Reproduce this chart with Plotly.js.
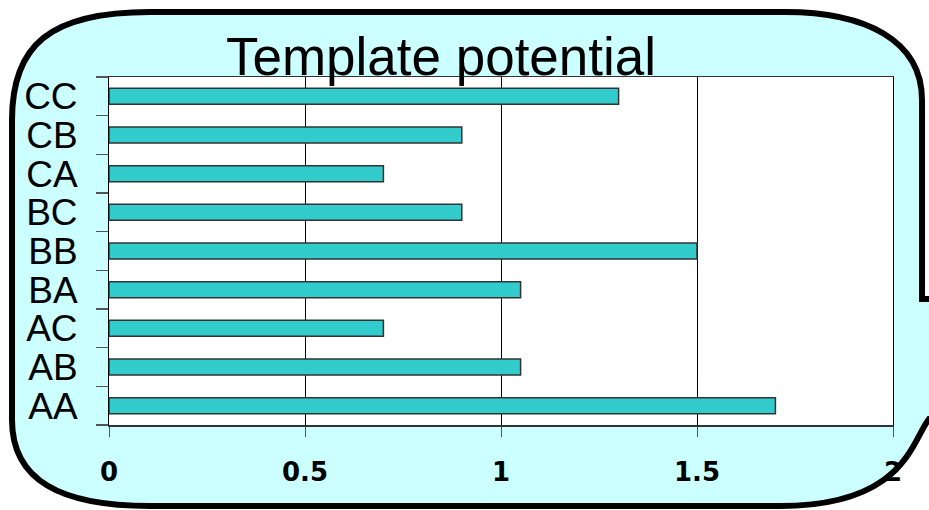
<!DOCTYPE html>
<html>
<head>
<meta charset="utf-8">
<script src="https://cdn.plot.ly/plotly-3.0.1.min.js"></script>
<style>html,body{margin:0;padding:0;background:#fff;}#chart{width:929px;height:510px;}</style>
</head>
<body>
<div id="chart"></div>
<script>
// Data
const categories = ['AA','AB','AC','BA','BB','BC','CA','CB','CC'];
const values = [1.7, 1.05, 0.7, 1.05, 1.5, 0.9, 0.7, 0.9, 1.3];
const xTickValues = [0, 0.5, 1, 1.5, 2];
const xTickLabels = ['0', '0.5', '1', '1.5', '2'];
const titleText = 'Template potential';

// Geometry of the plot area (pixels)
const W = 929, H = 510;
const L = 109, R = 893, T = 77, B = 425;
function px(x){ return ((x - L) / (R - L)).toFixed(4); }
function py(y){ return ((B - y) / (B - T)).toFixed(4); }
function P(x, y){ return px(x) + ',' + py(y); }

// Callout background outline (pixel coordinates -> paper)
const calloutPath =
  'M' + P(150, 12) +
  ' L' + P(785, 12) +
  ' C' + P(865, 12) + ' ' + P(922, 40) + ' ' + P(922, 100) +
  ' L' + P(922, 299) +
  ' L' + P(940, 299) +
  ' L' + P(940, 419) +
  ' L' + P(929, 419) +
  ' C' + P(912, 440) + ' ' + P(905, 506) + ' ' + P(780, 506) +
  ' L' + P(150, 506) +
  ' C' + P(60, 506) + ' ' + P(12, 480) + ' ' + P(12, 420) +
  ' L' + P(12, 120) +
  ' C' + P(12, 45) + ' ' + P(50, 12) + ' ' + P(150, 12) + ' Z';

const trace = {
  type: 'bar',
  orientation: 'h',
  x: values,
  y: categories,
  marker: { color: '#33CCCC', line: { color: '#333333', width: 1.5 } },
  hoverinfo: 'skip'
};

const layout = {
  width: W, height: H,
  margin: { l: L, r: W - R, t: T, b: H - B, pad: 0 },
  paper_bgcolor: '#ffffff',
  plot_bgcolor: '#ffffff',
  showlegend: false,
  bargap: 0.586,
  title: {
    text: titleText,
    font: { family: 'Liberation Sans, Arial, sans-serif', size: 53, color: '#000' },
    x: (441 - L) / (R - L), xref: 'paper', xanchor: 'center',
    y: 1 - 56 / H, yref: 'container', yanchor: 'middle'
  },
  xaxis: {
    range: [0, 2],
    tickmode: 'array',
    tickvals: xTickValues,
    ticktext: xTickLabels,
    showgrid: true, gridcolor: '#000000', gridwidth: 1,
    zeroline: false,
    showline: true, linecolor: '#333333', linewidth: 1.5, mirror: true,
    ticks: 'outside', ticklen: 10, tickcolor: '#555555', tickwidth: 1,
    ticklabelstandoff: 13,
    tickfont: { family: 'DejaVu Sans, Verdana, sans-serif', size: 26, color: '#000', weight: 'bold' },
    fixedrange: true
  },
  yaxis: {
    type: 'category',
    categoryorder: 'array', categoryarray: categories,
    tickmode: 'linear', tick0: 0, dtick: 1,
    tickson: 'boundaries',
    showgrid: false, zeroline: false,
    showline: true, linecolor: '#000000', linewidth: 1, mirror: true,
    ticks: 'outside', ticklen: 12, tickcolor: '#555555', tickwidth: 1.5,
    ticklabelstandoff: 23,
    tickfont: { family: 'Liberation Sans, Arial, sans-serif', size: 37, color: '#000' },
    fixedrange: true
  },
  shapes: [
    { type: 'path', xref: 'paper', yref: 'paper', layer: 'below',
      path: calloutPath, fillcolor: '#CCFFFF', line: { color: '#000000', width: 6 } },
    { type: 'rect', xref: 'paper', yref: 'paper', layer: 'below',
      x0: 0, x1: 1, y0: 0, y1: 1, fillcolor: '#ffffff', line: { width: 0 } }
  ]
};

Plotly.newPlot('chart', [trace], layout, { staticPlot: true, displayModeBar: false });
</script>
</body>
</html>
